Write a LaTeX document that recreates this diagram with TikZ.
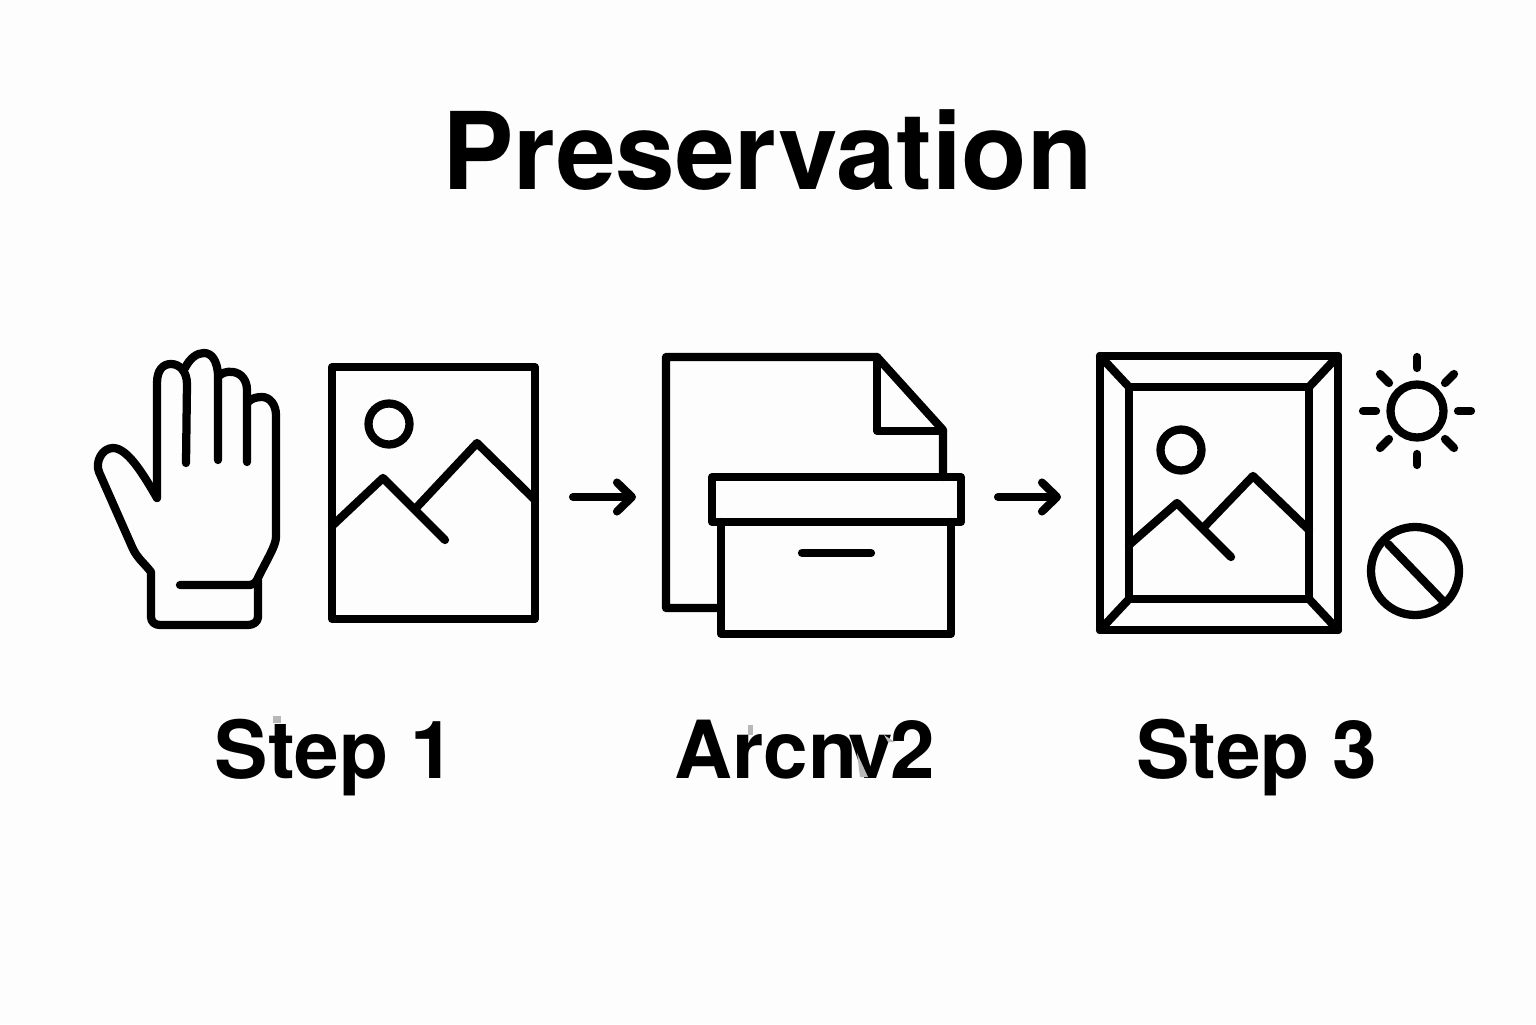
\documentclass[tikz,border=0pt]{standalone}
\usepackage{xcolor}
\usepackage{fontspec}
\usepackage{tikz}
\setmainfont{TeX Gyre Heros}
\usetikzlibrary{calc}
\usetikzlibrary{arrows.meta}
\definecolor{fdfdfd}{rgb}{0.992,0.992,0.992}
\definecolor{bbbbbb}{rgb}{0.72,0.72,0.72}
\tikzstyle{every node}=[font=\bfseries]
\tikzstyle{icon}=[line width=2.35pt,color=black]
\tikzstyle{thick icon}=[line width=2.5pt,color=black]
\tikzstyle{flow}=[->,line width=2.3pt,color=black]
\tikzstyle{smudge}=[fill=bbbbbb,draw=none]

\begin{document}
\begin{tikzpicture}[line cap=round,line join=round,>={Straight Barb[length=1.5mm,width=2.9mm,round]},x=1.0cm,y=1.0cm]
            \useasboundingbox (0,0) rectangle (15.36,10.24);
            \fill [fdfdfd] (0,0) rectangle (15.36,10.24);
            \node [anchor=base,font=\fontsize{30.5}{36}\bfseries\selectfont] (title) at (7.675,8.34) {Preservation};

            % hand
            \draw [icon] (1.57,5.26) -- (1.57,6.41) .. controls (1.57,6.54) and (1.63,6.60) .. (1.71,6.60) .. controls (1.80,6.60) and (1.87,6.52) .. (1.87,6.40) -- (1.86,5.61);
            \draw [icon] (1.85,6.56) .. controls (1.90,6.66) and (1.97,6.71) .. (2.04,6.71) .. controls (2.12,6.71) and (2.17,6.63) .. (2.18,6.50) -- (2.18,5.64);
            \draw [icon] (2.18,6.47) .. controls (2.21,6.51) and (2.27,6.53) .. (2.33,6.52) .. controls (2.41,6.51) and (2.47,6.44) .. (2.47,6.34) -- (2.47,5.62);
            \draw [icon] (2.48,6.22) .. controls (2.52,6.26) and (2.57,6.27) .. (2.62,6.27) .. controls (2.70,6.27) and (2.76,6.19) .. (2.76,6.09) -- (2.76,4.87) .. controls (2.76,4.78) and (2.66,4.63) .. (2.57,4.44) .. controls (2.55,4.41) and (2.53,4.39) .. (2.50,4.39) -- (1.80,4.39);
            \draw [icon] (2.58,4.44) -- (2.58,4.07) .. controls (2.58,4.02) and (2.53,3.99) .. (2.48,3.99) -- (1.60,3.99) .. controls (1.55,3.99) and (1.51,4.02) .. (1.51,4.07) -- (1.51,4.52) .. controls (1.45,4.60) and (1.38,4.65) .. (1.33,4.75) -- (0.99,5.52) .. controls (0.95,5.62) and (1.02,5.76) .. (1.13,5.76) .. controls (1.27,5.76) and (1.42,5.52) .. (1.57,5.26);

            % picture
            \draw [icon] (3.32,4.05) rectangle (5.35,6.57);
            \draw [icon] (3.89,6.00) circle (0.205);
            \draw [icon] (3.32,4.98) -- (3.83,5.46) -- (4.45,4.84);
            \draw [icon] (4.17,5.17) -- (4.77,5.81) -- (5.35,5.24);

            \coordinate (flow1a) at (5.73,5.27);
            \coordinate (flow1b) at (6.36,5.27);
            \draw [flow] (flow1a) -- (flow1b);

            % document and box
            \draw [icon] (7.21,4.16) -- (6.66,4.16) -- (6.66,6.67) -- (8.77,6.67) -- (9.43,5.94) -- (9.43,5.47);
            \draw [icon] (8.77,6.67) -- (8.77,5.93) -- (9.43,5.93);
            \draw [icon] (7.12,5.02) rectangle (9.61,5.47);
            \draw [icon] (7.21,5.02) -- (7.21,3.90) -- (9.51,3.90) -- (9.51,5.02);
            \draw [icon] (8.02,4.71) -- (8.71,4.71);

            \coordinate (flow2a) at (9.98,5.27);
            \coordinate (flow2b) at (10.61,5.27);
            \draw [flow] (flow2a) -- (flow2b);

            % frame
            \draw [thick icon] (11.00,3.94) rectangle (13.38,6.68);
            \draw [icon] (11.29,4.25) rectangle (13.09,6.37);
            \draw [icon] (11.00,6.68) -- (11.29,6.37);
            \draw [icon] (13.38,6.68) -- (13.09,6.37);
            \draw [icon] (11.00,3.94) -- (11.29,4.25);
            \draw [icon] (13.38,3.94) -- (13.09,4.25);
            \draw [icon] (11.81,5.74) circle (0.205);
            \draw [icon] (11.29,4.79) -- (11.77,5.21) -- (12.31,4.67);
            \draw [icon] (12.05,4.98) -- (12.53,5.48) -- (13.09,4.94);

            % sun
            \draw [icon] (14.17,6.13) circle (0.265);
            \draw [icon] (14.17,6.56) -- (14.17,6.67);
            \draw [icon] (14.17,5.70) -- (14.17,5.59);
            \draw [icon] (14.58,6.13) -- (14.71,6.13);
            \draw [icon] (13.76,6.13) -- (13.63,6.13);
            \draw [icon] (14.45,6.41) -- (14.54,6.50);
            \draw [icon] (13.89,6.41) -- (13.80,6.50);
            \draw [icon] (14.45,5.85) -- (14.54,5.76);
            \draw [icon] (13.89,5.85) -- (13.80,5.76);

            % no sign
            \draw [icon] (14.15,4.53) circle (0.44);
            \draw [icon] (13.88,4.80) -- (14.42,4.24);

            \node [anchor=base,font=\fontsize{22.8}{28}\bfseries\selectfont] (step1) at (3.35,2.46) {Step 1};
            \node [anchor=base,font=\fontsize{22.8}{28}\bfseries\selectfont] (archive) at (8.05,2.46) {Arcn\kern-0.11em v\kern-0.03em 2};
            \node [anchor=base,font=\fontsize{22.8}{28}\bfseries\selectfont] (step3) at (12.565,2.46) {Step 3};

            % grey specks on the labels
            \fill [smudge] (2.73,3.08) rectangle (2.81,3.01);
            \fill [smudge] (7.48,2.99) rectangle (7.53,2.89);
            \fill [smudge] (8.57,2.71) -- (8.60,2.47) -- (8.68,2.47) -- cycle;
            \fill [smudge] (8.84,2.89) -- (8.95,2.82) -- (8.88,2.82) -- cycle;
\end{tikzpicture}
\end{document}
